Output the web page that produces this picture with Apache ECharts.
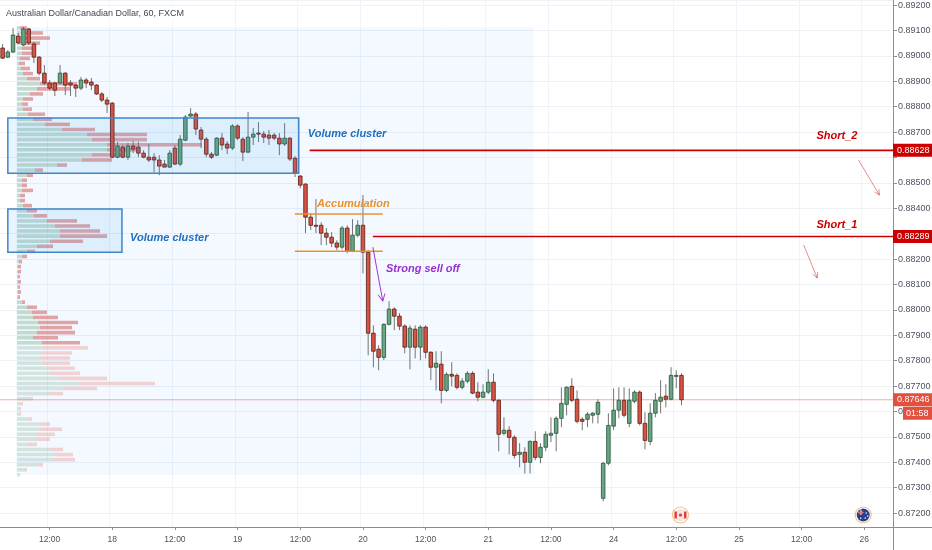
<!DOCTYPE html>
<html><head><meta charset="utf-8">
<script src="https://cdn.jsdelivr.net/npm/echarts@6/dist/echarts.min.js"></script>
<style>html,body{margin:0;padding:0;background:#fff}#c{width:932px;height:550px}</style>
</head><body><div id="c"></div>
<script>
// ---------- DATA ----------
const titleText = 'Australian Dollar/Canadian Dollar, 60, FXCM';
const dayLabels = ['17','18','19','20','21','24','25','26'];
const firstHour = 3;          // first category = 17 03:00
const categoryCount = 171;    // hourly slots shown
// hourly candles [open, close, low, high] from 17 03:00
const candles = [
[0.89031,0.88991,0.88988,0.89047],[0.88995,0.89015,0.88991,0.89023],[0.89015,0.89082,0.89011,0.89110],[0.89078,0.89051,0.89047,0.89090],
[0.89043,0.89106,0.89039,0.89114],[0.89106,0.89051,0.89043,0.89110],[0.89047,0.88995,0.88972,0.89055],[0.88995,0.88932,0.88924,0.88999],
[0.88932,0.88893,0.88885,0.88964],[0.88893,0.88873,0.88865,0.88905],[0.88893,0.88865,0.88842,0.88897],[0.88893,0.88932,0.88889,0.88964],
[0.88932,0.88885,0.88846,0.88936],[0.88893,0.88885,0.88842,0.88905],[0.88885,0.88873,0.88838,0.88889],[0.88873,0.88905,0.88865,0.88917],
[0.88905,0.88893,0.88873,0.88913],[0.88897,0.88885,0.88865,0.88913],[0.88885,0.88850,0.88846,0.88889],[0.88850,0.88826,0.88818,0.88858],
[0.88826,0.88810,0.88775,0.88838],[0.88814,0.88601,0.88597,0.88818],[0.88601,0.88645,0.88597,0.88661],[0.88641,0.88601,0.88597,0.88649],
[0.88601,0.88645,0.88590,0.88657],[0.88645,0.88633,0.88617,0.88664],[0.88641,0.88617,0.88601,0.88661],[0.88617,0.88601,0.88597,0.88629],
[0.88601,0.88590,0.88582,0.88653],[0.88601,0.88590,0.88542,0.88617],[0.88590,0.88566,0.88530,0.88609],[0.88574,0.88562,0.88562,0.88590],
[0.88562,0.88617,0.88558,0.88629],[0.88637,0.88574,0.88570,0.88649],[0.88574,0.88672,0.88566,0.88688],[0.88668,0.88759,0.88664,0.88767],
[0.88763,0.88771,0.88759,0.88794],[0.88771,0.88712,0.88688,0.88779],[0.88708,0.88672,0.88637,0.88720],[0.88672,0.88613,0.88601,0.88680],
[0.88613,0.88601,0.88594,0.88621],[0.88609,0.88676,0.88605,0.88680],[0.88676,0.88649,0.88629,0.88696],[0.88653,0.88637,0.88613,0.88664],
[0.88637,0.88724,0.88629,0.88731],[0.88724,0.88676,0.88668,0.88731],[0.88672,0.88621,0.88586,0.88680],[0.88621,0.88680,0.88617,0.88779],
[0.88680,0.88692,0.88649,0.88716],[0.88696,0.88692,0.88661,0.88739],[0.88692,0.88680,0.88657,0.88704],[0.88688,0.88676,0.88649,0.88708],
[0.88688,0.88676,0.88668,0.88696],[0.88676,0.88653,0.88609,0.88696],[0.88653,0.88676,0.88645,0.88735],[0.88676,0.88594,0.88586,0.88680],
[0.88597,0.88538,0.88523,0.88605],[0.88527,0.88491,0.88479,0.88530],[0.88495,0.88365,0.88302,0.88499],[0.88365,0.88333,0.88314,0.88381],
[0.88333,0.88330,0.88302,0.88436],[0.88333,0.88302,0.88255,0.88345],[0.88302,0.88286,0.88255,0.88322],[0.88286,0.88263,0.88247,0.88306],
[0.88263,0.88247,0.88235,0.88274],[0.88247,0.88322,0.88239,0.88330],[0.88322,0.88231,0.88223,0.88333],[0.88231,0.88294,0.88227,0.88357],
[0.88294,0.88333,0.88286,0.88353],[0.88333,0.88227,0.88144,0.88452],[0.88227,0.87908,0.87821,0.88235],[0.87908,0.87837,0.87774,0.87939],
[0.87845,0.87813,0.87762,0.87861],[0.87813,0.87943,0.87802,0.87947],[0.87943,0.88003,0.87939,0.88034],[0.88003,0.87975,0.87920,0.88010],
[0.87975,0.87936,0.87920,0.87987],[0.87936,0.87853,0.87829,0.87943],[0.87853,0.87928,0.87766,0.87939],[0.87924,0.87853,0.87809,0.87939],
[0.87853,0.87932,0.87802,0.87939],[0.87932,0.87833,0.87809,0.87939],[0.87833,0.87774,0.87723,0.87837],[0.87774,0.87790,0.87683,0.87837],
[0.87786,0.87683,0.87632,0.87837],[0.87683,0.87746,0.87676,0.87754],[0.87746,0.87739,0.87699,0.87794],[0.87742,0.87695,0.87687,0.87750],
[0.87695,0.87719,0.87687,0.87731],[0.87719,0.87750,0.87711,0.87758],[0.87750,0.87672,0.87668,0.87758],[0.87676,0.87656,0.87640,0.87715],
[0.87656,0.87676,0.87652,0.87707],[0.87676,0.87715,0.87668,0.87766],[0.87715,0.87644,0.87636,0.87750],[0.87644,0.87510,0.87443,0.87648],
[0.87514,0.87526,0.87506,0.87577],[0.87526,0.87498,0.87431,0.87542],[0.87498,0.87427,0.87415,0.87506],[0.87431,0.87439,0.87380,0.87475],
[0.87439,0.87400,0.87356,0.87459],[0.87400,0.87482,0.87356,0.87486],[0.87482,0.87419,0.87408,0.87522],[0.87419,0.87459,0.87396,0.87475],
[0.87459,0.87510,0.87443,0.87522],[0.87506,0.87514,0.87479,0.87577],[0.87514,0.87573,0.87443,0.87581],[0.87573,0.87632,0.87538,0.87695],
[0.87628,0.87695,0.87585,0.87699],[0.87699,0.87644,0.87636,0.87731],[0.87648,0.87561,0.87553,0.87683],[0.87569,0.87561,0.87526,0.87577],
[0.87569,0.87589,0.87538,0.87597],[0.87585,0.87593,0.87553,0.87597],[0.87589,0.87636,0.87553,0.87648],[0.87258,0.87396,0.87246,0.87400],
[0.87396,0.87545,0.87388,0.87593],[0.87542,0.87605,0.87526,0.87691],[0.87605,0.87644,0.87573,0.87695],[0.87644,0.87585,0.87577,0.87695],
[0.87553,0.87644,0.87538,0.87691],[0.87640,0.87676,0.87632,0.87683],[0.87676,0.87553,0.87545,0.87683],[0.87553,0.87486,0.87451,0.87597],
[0.87482,0.87593,0.87467,0.87632],[0.87593,0.87644,0.87577,0.87672],[0.87640,0.87656,0.87593,0.87723],[0.87660,0.87648,0.87616,0.87707],
[0.87648,0.87742,0.87644,0.87774],[0.87742,0.87742,0.87691,0.87762],[0.87742,0.87646,0.87624,0.87750]
];
// volume profile rows (price centre, up volume, down volume)
const vpPrice = [
0.89110,0.89090,0.89070,0.89050,0.89030,0.89010,0.88990,0.88970,0.88950,0.88930,
0.88910,0.88890,0.88870,0.88850,0.88830,0.88810,0.88790,0.88770,0.88750,0.88730,
0.88710,0.88690,0.88670,0.88650,0.88630,0.88610,0.88590,0.88570,0.88550,0.88530,
0.88510,0.88490,0.88470,0.88450,0.88430,0.88410,0.88390,0.88370,0.88350,0.88330,
0.88310,0.88290,0.88270,0.88250,0.88230,0.88210,0.88190,0.88170,0.88150,0.88130,
0.88110,0.88090,0.88070,0.88050,0.88030,0.88010,0.87990,0.87970,0.87950,0.87930,
0.87910,0.87890,0.87870,0.87850,0.87830,0.87810,0.87790,0.87770,0.87750,0.87730,
0.87710,0.87690,0.87670,0.87650,0.87630,0.87610,0.87590,0.87570,0.87550,0.87530,
0.87510,0.87490,0.87470,0.87450,0.87430,0.87410,0.87390,0.87370,0.87350];
const vpUp = [3,5,6,6,5,5,3,2,4,6, 10,23,20,13,6,5,6,11,16,28, 45,70,75,90,90,75,65,40,18,10,
5,5,5,3,3,6,10,17,30,38, 43,43,33,20,10,5,2,1,1,1, 1,1,1,1,5,10,15,16,21,23,
20,16,25,26,25,23,25,30,33,43, 63,46,33,13,3,2,2,10,23,23, 20,20,10,33,40,36,20,7,2];
const vpDown = [7,21,27,17,10,10,10,6,9,10, 13,37,33,13,10,6,9,17,19,25, 33,60,55,95,30,30,30,10,8,6,
5,5,11,5,5,9,10,13,30,35, 40,47,33,16,8,5,3,3,3,2, 3,2,3,2,3,10,15,25,40,32,
38,25,38,45,30,30,28,28,30,47, 75,34,13,3,3,2,2,5,10,22, 18,13,10,13,16,22,6,3,1];
const vpBin = 0.0002;
const vpValueAreaLow = 0.8786;
const vpRange = {k0:5.6, k1:104.7, high:0.89114, low:0.8735};
// annotations (anchored in hour index k and price)
const volumeBoxes = [{k0:4.0,k1:59.7,high:0.88755,low:0.88538},{k0:4.0,k1:25.85,high:0.88397,low:0.88227}];
const volumeLabels = [{text:'Volume cluster',k:61.45,p:0.88692},{text:'Volume cluster',k:27.4,p:0.88282}];
const accumulation = {text:'Accumulation',k0:58.96,k1:75.8,top:0.88377,bottom:0.88231,labelK:63.2,labelP:0.88416};
const shortLevels = [
  {name:'Short_2',price:0.88628,startK:61.8,labelK:166.7,labelP:0.88684,arrow:[166.9,0.88590,170.9,0.88452]},
  {name:'Short_1',price:0.88289,startK:73.9,labelK:166.7,labelP:0.88334,arrow:[156.4,0.88255,159.0,0.88125]}];
const sellOff = {text:'Strong sell off',labelK:76.4,labelP:0.88160,arrow:[73.9,0.88247,75.8,0.88034]};
const lastPrice = 0.87646;
const countdown = '01:58';
const events = [{k:132.8,flag:'CA'},{k:167.8,flag:'AU'}];
const yMin = 0.87145, yMax = 0.8922;

// ---------- CHART ----------
const FONT = '"Liberation Sans", Arial, sans-serif';
const categories = [];
for (let k = firstHour; k < firstHour + categoryCount; k++) {
  const h = k % 24;
  categories.push(dayLabels[Math.floor(k / 24)] + ' ' + String(h).padStart(2, '0') + ':00');
}
const showCat = (i, v) => /( 00:00| 12:00)$/.test(v);
const candleData = candles.map((c, i) => [i, c[0], c[1], c[2], c[3]]);
const vpData = vpPrice.map((p, i) => [p, vpUp[i], vpDown[i]]);
const hideNear = [shortLevels[0].price, shortLevels[1].price];

const chart = echarts.init(document.getElementById('c'));
const option = {
  animation: false,
  backgroundColor: '#ffffff',
  grid: [
    {left: 0, right: 39, top: 0, bottom: 23, outerBoundsMode: 'none'},
    {left: 17, width: 500, top: 0, bottom: 23, outerBoundsMode: 'none'}
  ],
  xAxis: [
    {type: 'category', gridIndex: 0, data: categories, boundaryGap: true,
     axisLine: {show: false},
     axisTick: {show: true, interval: showCat, alignWithLabel: true, length: 3, lineStyle: {color: '#8a8d96'}},
     axisLabel: {interval: showCat, color: '#4c525e', fontSize: 8.5, margin: 8, fontFamily: FONT,
       formatter: v => { const s = v.split(' '); return s[1] === '00:00' ? s[0] : s[1]; }},
     splitLine: {show: true, interval: showCat, lineStyle: {color: '#f0f3fa', width: 1}}},
    {type: 'value', gridIndex: 1, min: 0, max: 500, show: false}
  ],
  yAxis: [
    {type: 'value', gridIndex: 0, position: 'right', min: yMin, max: yMax,
     minInterval: 0.001, maxInterval: 0.001, splitNumber: 21,
     axisLine: {show: false},
     axisTick: {show: true, length: 4, lineStyle: {color: '#8a8d96'}},
     axisLabel: {showMinLabel: false, showMaxLabel: false, color: '#4c525e', fontSize: 9, margin: 5, fontFamily: FONT,
       formatter: v => hideNear.some(h => Math.abs(h - v) < 0.0004) ? '' : v.toFixed(5)},
     splitLine: {show: true, lineStyle: {color: '#eef1f6', width: 1}}},
    {type: 'value', gridIndex: 1, min: yMin, max: yMax, show: false}
  ],
  series: [
    {type: 'custom', name: 'profile', xAxisIndex: 1, yAxisIndex: 1, z: 1, silent: true,
     data: vpData, encode: {x: [1, 2], y: 0},
     renderItem: (params, api) => {
       const p = api.value(0), up = api.value(1), dn = api.value(2);
       const a = api.coord([0, p + vpBin / 2]);
       const b = api.coord([up, p - vpBin / 2]);
       const c = api.coord([up + dn, p - vpBin / 2]);
       const h = b[1] - a[1];
       const inVA = p >= vpValueAreaLow;
       return {type: 'group', children: [
         {type: 'rect', shape: {x: a[0], y: a[1] + 0.7, width: b[0] - a[0], height: h - 1.5},
          style: {fill: inVA ? 'rgba(107,165,131,0.36)' : 'rgba(107,165,131,0.24)'}},
         {type: 'rect', shape: {x: b[0], y: a[1] + 0.7, width: c[0] - b[0], height: h - 1.5},
          style: {fill: inVA ? 'rgba(205,80,80,0.5)' : 'rgba(235,120,120,0.3)'}}
       ]};
     }},
    {type: 'custom', name: 'AUDCAD', xAxisIndex: 0, yAxisIndex: 0, z: 3,
     data: candleData, encode: {x: 0, y: [1, 2, 3, 4]},
     renderItem: (params, api) => {
       const x = api.value(0), o = api.value(1), c = api.value(2), l = api.value(3), hgh = api.value(4);
       const pO = api.coord([x, o]), pC = api.coord([x, c]), pL = api.coord([x, l]), pH = api.coord([x, hgh]);
       const bw = api.size([1, 0])[0] * 0.68;
       const up = c >= o;
       const top = Math.min(pO[1], pC[1]), bot = Math.max(pO[1], pC[1]);
       return {type: 'group', children: [
         {type: 'line', shape: {x1: pH[0], y1: pH[1], x2: pL[0], y2: pL[1]}, style: {stroke: '#737375', lineWidth: 1}},
         {type: 'rect', shape: {x: pO[0] - bw / 2, y: top, width: bw, height: Math.max(bot - top, 1)},
          style: {fill: up ? '#6ba583' : '#d75442', stroke: up ? '#225437' : '#5b1a13', lineWidth: 0.8}}
       ]};
     }}
  ]
};
chart.setOption(option);

// ---------- ANNOTATIONS (positioned through the axes) ----------
const X0 = chart.convertToPixel({xAxisIndex: 0}, categories[0]);
const X1 = chart.convertToPixel({xAxisIndex: 0}, categories[1]);
const xAt = k => X0 + (k - firstHour) * (X1 - X0);
const yAt = p => chart.convertToPixel({yAxisIndex: 0}, p);
const W = 932, H = 550, axisX = W - 39, axisY = H - 23;
const els = [];
const txt = (x, y, text, fill, font, align, z) => ({type: 'text', x, y, z: z || 30, silent: true,
  style: {text, fill, font, align: align || 'left', verticalAlign: 'middle', textAlign: align || 'left', textVerticalAlign: 'middle'}});
function arrow(x1, y1, x2, y2, color, lw, head) {
  const ang = Math.atan2(y2 - y1, x2 - x1);
  const a1 = ang + Math.PI - 0.45, a2 = ang + Math.PI + 0.45;
  return [
    {type: 'line', z: 25, shape: {x1, y1, x2, y2}, style: {stroke: color, lineWidth: lw}},
    {type: 'polyline', z: 25, shape: {points: [[x2 + head * Math.cos(a1), y2 + head * Math.sin(a1)], [x2, y2], [x2 + head * Math.cos(a2), y2 + head * Math.sin(a2)]]},
     style: {stroke: color, fill: null, lineWidth: lw}}
  ];
}
// profile range background
els.push({type: 'rect', z: 0, silent: true, shape: {x: xAt(vpRange.k0), y: yAt(vpRange.high), width: xAt(vpRange.k1) - xAt(vpRange.k0), height: yAt(vpRange.low) - yAt(vpRange.high)},
  style: {fill: 'rgba(33,150,243,0.055)'}});
// volume cluster boxes
volumeBoxes.forEach(b => els.push({type: 'rect', z: 20, silent: true,
  shape: {x: xAt(b.k0), y: yAt(b.high), width: xAt(b.k1) - xAt(b.k0), height: yAt(b.low) - yAt(b.high)},
  style: {fill: 'rgba(33,150,243,0.10)', stroke: '#3f86c9', lineWidth: 1.5}}));
volumeLabels.forEach(l => els.push(txt(xAt(l.k), yAt(l.p), l.text, '#1e6fc0', 'italic bold 11px ' + FONT)));
// accumulation
[accumulation.top, accumulation.bottom].forEach(p => els.push({type: 'line', z: 22, silent: true,
  shape: {x1: xAt(accumulation.k0), y1: yAt(p), x2: xAt(accumulation.k1), y2: yAt(p)}, style: {stroke: '#e8922f', lineWidth: 1.5}}));
els.push(txt(xAt(accumulation.labelK), yAt(accumulation.labelP), accumulation.text, '#e8922f', 'italic bold 11px ' + FONT));
// short levels
shortLevels.forEach(s => {
  const y = yAt(s.price);
  els.push({type: 'line', z: 22, silent: true, shape: {x1: xAt(s.startK), y1: y, x2: axisX, y2: y}, style: {stroke: '#cc0000', lineWidth: 1.6}});
  els.push(txt(xAt(s.labelK), yAt(s.labelP), s.name, '#cc0000', 'italic bold 11px ' + FONT, 'right'));
  arrow(xAt(s.arrow[0]), yAt(s.arrow[1]), xAt(s.arrow[2]), yAt(s.arrow[3]), 'rgba(220,60,60,0.75)', 0.8, 6).forEach(e => els.push(e));
  els.push({type: 'rect', z: 40, shape: {x: axisX, y: y - 6.5, width: W - axisX, height: 13}, style: {fill: '#cc0000'}});
  els.push(txt(axisX + 4, y, s.price.toFixed(5), '#ffffff', '9px ' + FONT, 'left', 45));
});
// strong sell off
arrow(xAt(sellOff.arrow[0]), yAt(sellOff.arrow[1]), xAt(sellOff.arrow[2]), yAt(sellOff.arrow[3]), '#a335d6', 1, 8).forEach(e => els.push(e));
els.push(txt(xAt(sellOff.labelK), yAt(sellOff.labelP), sellOff.text, '#9b2fd6', 'italic bold 11px ' + FONT));
// current price line + labels
const yl = yAt(lastPrice);
els.push({type: 'line', z: 2, silent: true, shape: {x1: 0, y1: yl, x2: axisX, y2: yl}, style: {stroke: 'rgba(215,84,66,0.45)', lineWidth: 1}});
els.push({type: 'rect', z: 40, shape: {x: axisX, y: yl - 6.5, width: W - axisX, height: 13}, style: {fill: '#e2503f'}});
els.push(txt(axisX + 4, yl, lastPrice.toFixed(5), '#ffffff', '9px ' + FONT, 'left', 45));
els.push({type: 'rect', z: 40, shape: {x: axisX + 10, y: yl + 7, width: W - axisX - 10, height: 13}, style: {fill: '#e2503f'}});
els.push(txt(axisX + 13, yl + 13.5, countdown, '#ffffff', '9px ' + FONT, 'left', 45));
// frame lines
els.push({type: 'line', z: 35, silent: true, shape: {x1: 0, y1: axisY + 0.5, x2: W, y2: axisY + 0.5}, style: {stroke: '#8a8d96', lineWidth: 1}});
els.push({type: 'line', z: 35, silent: true, shape: {x1: axisX + 0.5, y1: 0, x2: axisX + 0.5, y2: H}, style: {stroke: '#8a8d96', lineWidth: 1}});
// event flags
events.forEach(ev => {
  const cx = xAt(ev.k), cy = axisY - 12;
  els.push({type: 'circle', z: 30, shape: {cx, cy, r: 8}, style: {fill: '#ffffff', stroke: '#f2c48c', lineWidth: 1.2}});
  if (ev.flag === 'CA') {
    els.push({type: 'circle', z: 31, shape: {cx, cy, r: 6.3}, style: {fill: '#f7e3e3'}});
    els.push({type: 'rect', z: 32, shape: {x: cx - 6, y: cy - 3.5, width: 2.4, height: 7}, style: {fill: '#e03c31'}});
    els.push({type: 'rect', z: 32, shape: {x: cx + 3.6, y: cy - 3.5, width: 2.4, height: 7}, style: {fill: '#e03c31'}});
    els.push({type: 'circle', z: 32, shape: {cx, cy, r: 1.6}, style: {fill: '#e03c31'}});
  } else {
    els.push({type: 'circle', z: 31, shape: {cx, cy, r: 6.5}, style: {fill: '#26418f'}});
    els.push({type: 'line', z: 32, shape: {x1: cx - 5, y1: cy - 2.5, x2: cx, y2: cy - 2.5}, style: {stroke: '#ffffff', lineWidth: 1.4}});
    els.push({type: 'line', z: 32, shape: {x1: cx - 2.5, y1: cy - 5.5, x2: cx - 2.5, y2: cy}, style: {stroke: '#ffffff', lineWidth: 1.4}});
    els.push({type: 'line', z: 33, shape: {x1: cx - 5, y1: cy - 2.5, x2: cx, y2: cy - 2.5}, style: {stroke: '#d0312d', lineWidth: 0.6}});
    els.push({type: 'line', z: 33, shape: {x1: cx - 2.5, y1: cy - 5.5, x2: cx - 2.5, y2: cy}, style: {stroke: '#d0312d', lineWidth: 0.6}});
    [[3, -2], [2, 3], [-2.5, 3.2], [4.5, 1]].forEach(d => els.push({type: 'circle', z: 32, shape: {cx: cx + d[0], cy: cy + d[1], r: 0.8}, style: {fill: '#ffffff'}}));
  }
});
// title
els.push({type: 'rect', z: 28, shape: {x: 2, y: 6, width: 186, height: 15}, style: {fill: 'rgba(255,255,255,0.75)'}});
els.push(txt(6, 14, titleText, '#434651', '9px ' + FONT));
chart.setOption({graphic: {elements: els}});
</script>
</body></html>
